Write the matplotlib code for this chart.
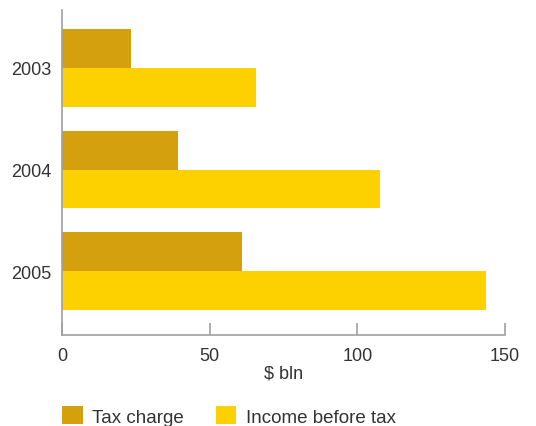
import matplotlib.pyplot as plt
import numpy as np

plt.rcParams['font.family'] = ['Liberation Sans', 'DejaVu Sans']

# Taxes vs. income, $ bln
years = ["2003", "2004", "2005"]
tax_charge = [23.4, 39.3, 61.0]
income_before_tax = [65.7, 107.7, 143.6]
tick_values = [0, 50, 100, 150]

tax_color = "#D4A00E"
income_color = "#FDD000"
text_color = "#333333"
axis_color = "#A0A0A0"

W, H = 536, 427
fig = plt.figure(figsize=(W / 100, H / 100), dpi=100)
ax = fig.add_axes([62 / W, (H - 336) / H, (505 - 62) / W, (336 - 11) / H])

y = np.arange(len(years))
bar_h = 0.384
tax_bars = ax.barh(y - bar_h / 2, tax_charge, height=bar_h, color=tax_color,
                   label="Tax charge")
income_bars = ax.barh(y + bar_h / 2, income_before_tax, height=bar_h,
                      color=income_color, label="Income before tax")

ax.set_xlim(0, 150)
ax.set_ylim(2.63, -0.571)
ax.set_xticks(tick_values)
ax.set_yticks(y)
ax.set_yticklabels(years)

for side in ["top", "right"]:
    ax.spines[side].set_visible(False)
for side in ["left", "bottom"]:
    ax.spines[side].set_color(axis_color)
    ax.spines[side].set_linewidth(1.2)

ax.tick_params(axis="x", direction="in", length=9, width=1.2, color=axis_color,
               labelsize=13, labelcolor=text_color, pad=9)
ax.tick_params(axis="y", length=0, labelsize=13, labelcolor=text_color, pad=8)
ax.set_xlabel("$ bln", fontsize=13, color=text_color, labelpad=0)

fig.legend(handles=[tax_bars, income_bars], loc="center left",
           bbox_to_anchor=(62 / W, (H - 417) / H), ncol=2, frameon=False,
           fontsize=13.5, labelcolor=text_color, handlelength=1.1,
           handleheight=1.1, handletextpad=0.5, columnspacing=1.7,
           borderpad=0, borderaxespad=0)

fig.savefig("out.png", dpi=100)
